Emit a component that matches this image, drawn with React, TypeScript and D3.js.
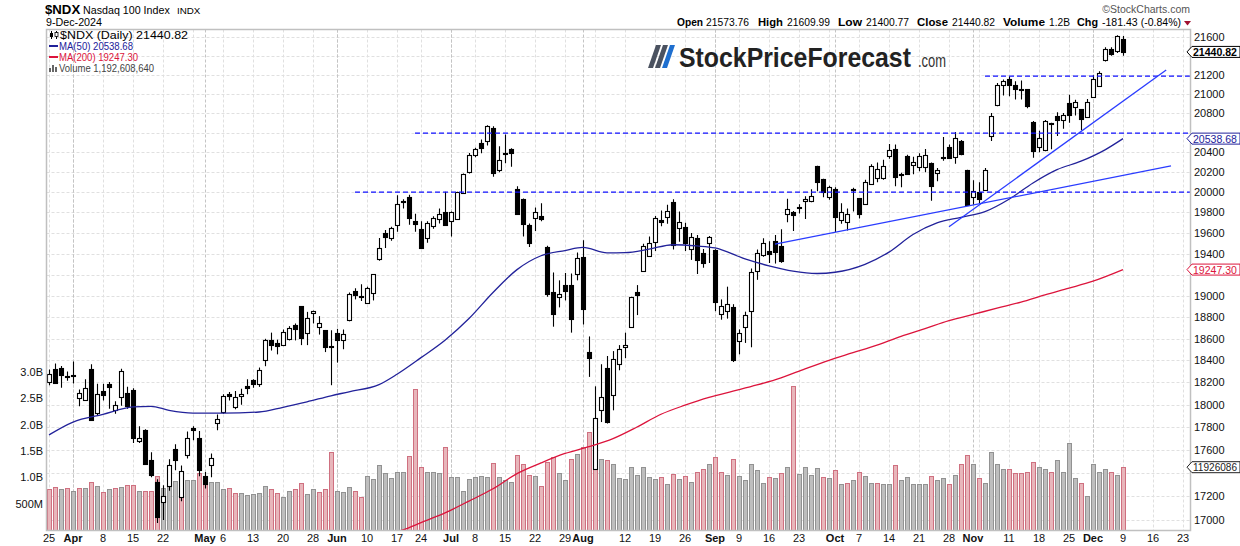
import React from "react";
import * as d3 from "d3";

const FONT = "'Liberation Sans', Arial, Helvetica, sans-serif";

// trading calendar
const HOLIDAYS = ["2024-03-29", "2024-05-27", "2024-06-19", "2024-07-04", "2024-09-02", "2024-11-28"];
const START = "2024-03-25";
const AXIS_END = "2024-12-24";
const MONTHS = ["Jan", "Feb", "Mar", "Apr", "May", "Jun", "Jul", "Aug", "Sep", "Oct", "Nov", "Dec"];

// daily OHLC (Mar 25 .. Dec 9, 2024)
const opens = [
  18204, 18320, 18330, 18262, 18258, 18060, 18045, 18320, 17930, 18122,
  18183, 17950, 18070, 18108, 18135, 17682, 17780, 17510, 17325, 17152,
  17288, 17605, 17195, 17560, 17793, 17707, 17372, 17467, 17840, 17935,
  18099, 17976, 18078, 18165, 18220, 18183, 18400, 18583, 18562, 18543,
  18592, 18722, 18900, 18655, 18840, 18706, 18677, 18528, 18650, 18585,
  18770, 19045, 18998, 18932, 19026, 19345, 19595, 19548, 19674, 19910,
  19950, 19712, 19635, 19548, 19670, 19735, 19805, 19712, 19735, 19990,
  20203, 20377, 20490, 20518, 20652, 20220, 20397, 20430, 20028, 19930,
  19677, 19745, 19770, 19465, 19030, 18990, 19105, 19105, 19210, 19365,
  18480, 17438, 17950, 18335, 18090, 18365, 18525, 18710, 19030, 19235,
  19380, 19510, 19722, 19752, 19900, 19650, 19660, 19440, 19555, 19410,
  19500, 19435, 18825, 18855, 18890, 18575, 18710, 18855, 19232, 19385,
  19425, 19525, 19470, 19790, 19800, 19850, 19910, 19910, 20260, 20135,
  19950, 20035, 19725, 19710, 20030, 19940, 19885, 20085, 20145, 20140,
  20360, 20432, 20180, 20365, 20270, 20250, 20250, 20290, 20190, 20340,
  20450, 20350, 20510, 20218, 19950, 20000, 20025, 20565, 20880, 21088,
  21160, 21088, 21045, 21045, 20710, 20450, 20425, 20700, 20775, 20730,
  20900, 20860, 20840, 20757, 20965, 21085, 21350, 21475, 21447, 21573.76,
];
const highs = [
  18316, 18371, 18350, 18300, 18390, 18136, 18228, 18365, 18189, 18189,
  18204, 18030, 18325, 18160, 18147, 17808, 17782, 17580, 17348, 17295,
  17520, 17650, 17465, 17763, 17808, 17766, 17410, 17570, 17914, 18093,
  18113, 18122, 18144, 18228, 18228, 18335, 18598, 18655, 18590, 18684,
  18715, 18740, 18900, 18848, 18860, 18808, 18677, 18677, 18690, 18684,
  19030, 19070, 19108, 19085, 19205, 19550, 19630, 19660, 19970, 19930,
  19975, 19788, 19715, 19715, 19762, 19840, 20005, 19810, 20005, 20187,
  20393, 20447, 20530, 20675, 20665, 20460, 20580, 20440, 20060, 19937,
  19693, 19850, 19890, 19475, 19220, 19145, 19215, 19210, 19410, 19530,
  18620, 18165, 18365, 18440, 18485, 18540, 18655, 18990, 19100, 19495,
  19565, 19765, 19820, 19875, 19930, 19810, 19700, 19600, 19580, 19445,
  19570, 19442, 18965, 19085, 18920, 18685, 18850, 19258, 19440, 19548,
  19520, 19580, 19635, 19935, 19815, 19880, 19960, 20030, 20265, 20135,
  20065, 20050, 19890, 19840, 20045, 19940, 20125, 20280, 20297, 20325,
  20485, 20478, 20195, 20375, 20355, 20390, 20432, 20297, 20242, 20555,
  20480, 20605, 20525, 20224, 20120, 20100, 20242, 20800, 21112, 21150,
  21185, 21130, 21140, 21045, 20720, 20618, 20730, 20700, 20810, 20800,
  20990, 20938, 20840, 20945, 21195, 21235, 21490, 21490, 21618, 21609.99,
];
const lows = [
  18174, 18189, 18153, 18215, 18190, 17986, 18033, 17860, 17905, 18038,
  17965, 17920, 17990, 17965, 17662, 17662, 17476, 17365, 16975, 17000,
  17248, 17425, 17158, 17527, 17685, 17372, 17268, 17365, 17773, 17920,
  18038, 17960, 18000, 18093, 18153, 18160, 18347, 18490, 18455, 18531,
  18583, 18583, 18540, 18540, 18740, 18637, 18476, 18175, 18380, 18502,
  18760, 18965, 18950, 18925, 18955, 19332, 19455, 19525, 19612, 19840,
  19680, 19612, 19458, 19505, 19640, 19693, 19673, 19565, 19730, 19983,
  20187, 20350, 20390, 20468, 20155, 20200, 20290, 20255, 19780, 19565,
  19465, 19620, 19715, 18990, 18710, 18890, 18955, 18655, 19145, 18730,
  18250, 17430, 17846, 17833, 17950, 18310, 18420, 18710, 18818, 19225,
  19372, 19425, 19665, 19690, 19440, 19515, 19425, 19340, 19205, 19265,
  19310, 18855, 18775, 18785, 18385, 18455, 18560, 18520, 19150, 19370,
  19310, 19305, 19312, 19705, 19620, 19790, 19735, 19900, 20010, 19950,
  19925, 19610, 19690, 19625, 19810, 19740, 19875, 20075, 20100, 20125,
  20335, 20060, 20050, 20180, 20180, 20210, 20200, 19915, 20110, 20315,
  20335, 20285, 20370, 19872, 19875, 19890, 20025, 20515, 20870, 20982,
  20975, 20940, 20940, 20850, 20345, 20400, 20410, 20430, 20565, 20640,
  20700, 20775, 20625, 20750, 20958, 21070, 21340, 21400, 21430, 21400.77,
];
const closes = [
  18273, 18195, 18270, 18248, 18265, 18108, 18153, 17866, 18099, 18090,
  18162, 18001, 18301, 17990, 17705, 17708, 17482, 17386, 17025, 17200,
  17470, 17510, 17417, 17708, 17773, 17430, 17310, 17530, 17876, 18078,
  18075, 18068, 18099, 18153, 18190, 18316, 18583, 18543, 18531, 18662,
  18702, 18690, 18604, 18795, 18858, 18740, 18522, 18518, 18585, 18640,
  19020, 19010, 18988, 19070, 19205, 19450, 19565, 19645, 19880, 19900,
  19742, 19690, 19458, 19693, 19745, 19782, 19673, 19805, 19998, 20180,
  20377, 20433, 20440, 20665, 20195, 20320, 20385, 20390, 19790, 19690,
  19505, 19808, 19735, 19020, 18825, 19020, 19045, 18785, 19355, 18875,
  18425, 17885, 18070, 17850, 18410, 18500, 18540, 18990, 19010, 19475,
  19500, 19750, 19710, 19815, 19480, 19705, 19505, 19560, 19340, 19310,
  19565, 18940, 18905, 18920, 18400, 18650, 18815, 19225, 19405, 19505,
  19400, 19415, 19325, 19830, 19780, 19855, 19935, 19960, 20100, 20000,
  20050, 19760, 19800, 19790, 20020, 19790, 20100, 20265, 20235, 20265,
  20425, 20150, 20170, 20180, 20305, 20365, 20375, 20058, 20218, 20350,
  20345, 20543, 20385, 19878, 20015, 19935, 20218, 20767, 21088, 21133,
  21088, 21053, 21035, 20870, 20418, 20540, 20720, 20690, 20730, 20780,
  20785, 20910, 20740, 20920, 21155, 21218, 21475, 21420, 21607, 21440.82,
];
const PREV_CLOSE = 18339;

// daily volume, billions of shares
const volumes = [
  0.77, 0.81, 0.77, 0.79, 0.74, 0.79, 0.79, 0.92, 0.83, 0.72,
  0.77, 0.79, 0.82, 0.85, 0.85, 0.74, 0.75, 0.75, 1.02, 0.79,
  0.85, 0.93, 1.02, 0.95, 0.95, 1.08, 1.03, 0.91, 0.92, 0.77,
  0.8, 0.7, 0.7, 0.67, 0.69, 0.7, 0.83, 0.77, 0.7, 0.62,
  0.74, 0.77, 0.89, 0.68, 0.77, 0.72, 0.77, 1.48, 0.75, 0.72,
  0.82, 0.75, 0.62, 1.02, 0.96, 1.23, 1.08, 0.98, 1.1, 1.1,
  1.4, 2.67, 1.2, 1.11, 1.11, 1.08, 1.57, 1.01, 1.01, 0.75,
  0.96, 1.01, 1.03, 1.01, 1.28, 1.01, 0.94, 0.91, 1.42, 1.25,
  1.04, 1.02, 0.83, 1.3, 1.38, 1.08, 0.94, 1.35, 1.44, 1.57,
  1.86, 1.8, 1.35, 1.33, 1.25, 0.99, 0.96, 1.2, 1.04, 1.2,
  1.01, 0.96, 1.01, 0.87, 1.06, 0.96, 1.02, 0.91, 1.11, 1.16,
  1.26, 1.38, 1.1, 1.04, 1.35, 1.02, 0.94, 1.25, 1.14, 0.89,
  1.01, 0.99, 1.08, 1.2, 2.73, 1.06, 1.2, 1.04, 1.18, 1.01,
  0.99, 1.14, 0.87, 0.9, 0.94, 1.11, 1.02, 0.9, 0.9, 0.87,
  0.87, 1.23, 0.94, 1.01, 0.87, 0.87, 0.87, 1.02, 0.94, 0.99,
  0.87, 1.04, 1.26, 1.42, 1.25, 0.99, 0.9, 1.49, 1.25, 1.16,
  1.16, 1.08, 1.08, 1.1, 1.3, 1.19, 1.16, 1.11, 1.33, 1.1,
  1.66, 0.99, 0.9, 0.65, 1.26, 1.11, 1.16, 1.1, 1.04, 1.1926,
];

// moving averages (bar index -> value)
const ma50Days = [0, 4, 9, 14, 17, 20, 24, 29, 35, 39, 43, 47, 50, 55, 58, 62, 66, 70, 74, 78, 82, 86, 89, 93, 96, 100, 104, 108, 111, 116, 120, 124, 128, 131, 136, 140, 144, 148, 152, 156, 160, 164, 168, 172, 176, 179];
const ma50Values = [17733, 17846, 17915, 17980, 17986, 17950, 17926, 17926, 17935, 17977, 18026, 18080, 18116, 18180, 18274, 18425, 18585, 18786, 19030, 19247, 19380, 19430, 19460, 19408, 19410, 19443, 19486, 19474, 19455, 19350, 19283, 19232, 19210, 19222, 19298, 19415, 19585, 19698, 19753, 19808, 19930, 20092, 20225, 20310, 20425, 20538.68];
const ma200Days = [56, 59, 62, 66, 70, 74, 78, 82, 86, 90, 94, 98, 102, 106, 110, 114, 118, 122, 126, 130, 134, 138, 142, 146, 150, 154, 158, 162, 166, 170, 174, 179];
const ma200Values = [16887, 16918, 16978, 17060, 17160, 17265, 17396, 17488, 17570, 17630, 17700, 17802, 17915, 17996, 18066, 18121, 18177, 18242, 18323, 18401, 18470, 18540, 18620, 18692, 18766, 18824, 18883, 18940, 19008, 19071, 19137, 19247.3];

// annotations
const levelLines = [
  { from: 51, price: 20000 },
  { from: 61, price: 20595 },
  { from: 156, price: 21185 },
];
const trendLines = [
  { x1: 121, p1: 19492, x2: 187, p2: 20262 },
  { x1: 150, p1: 19660, x2: 186.2, p2: 21250 },
];

const priceTicks = d3.range(17000, 21601, 200);
const volumeTicks = [0.5, 1, 1.5, 2, 2.5, 3];
const volumeTickLabels = ["500M", "1.0B", "1.5B", "2.0B", "2.5B", "3.0B"];

const headerItems: [string, boolean, number, number][] = [
  ["Open", true, 677, 26],
  ["21573.76", false, 706, 43],
  ["High", true, 758, 25],
  ["21609.99", false, 787, 43],
  ["Low", true, 838, 24],
  ["21400.77", false, 866, 43],
  ["Close", true, 917, 31],
  ["21440.82", false, 952, 43],
  ["Volume", true, 1003, 42],
  ["1.2B", false, 1049, 21],
  ["Chg", true, 1077, 21],
  ["-181.43 (-0.84%)", false, 1102, 79],
];

function tradingDays(from: string, to: string) {
  const out: Date[] = [];
  const d = new Date(from + "T00:00:00Z");
  const end = new Date(to + "T00:00:00Z");
  while (d <= end) {
    const dow = d.getUTCDay();
    const key = d.toISOString().slice(0, 10);
    if (dow !== 0 && dow !== 6 && !HOLIDAYS.includes(key)) out.push(new Date(d));
    d.setUTCDate(d.getUTCDate() + 1);
  }
  return out;
}

const L = 46.5, R = 1190.5, T = 29.5, B = 530.5;

export default function App() {
  const days = tradingDays(START, AXIS_END);
  const n = closes.length;
  const x = d3.scaleLinear().domain([0, n - 1]).range([49, 1123]);
  const y = d3.scaleLog().domain([17000, 21600]).range([520, 37]);
  const yv = d3.scaleLinear().domain([0, 3]).range([530, 372]);

  // week / month starts
  const monthStarts: number[] = [];
  const weekStarts: number[] = [];
  days.forEach((d, i) => {
    if (i === 0) { weekStarts.push(i); return; }
    const p = days[i - 1];
    if (d.getUTCMonth() !== p.getUTCMonth()) monthStarts.push(i);
    if (d.getUTCDay() < p.getUTCDay()) weekStarts.push(i);
  });
  const labels: { i: number; text: string; bold: boolean }[] = [];
  monthStarts.forEach((i) => labels.push({ i, text: MONTHS[days[i].getUTCMonth()], bold: true }));
  weekStarts.forEach((i) => {
    if (monthStarts.some((m) => Math.abs(m - i) <= 2)) return;
    labels.push({ i, text: String(days[i].getUTCDate()), bold: false });
  });

  const ma50Line = d3.line<number>().x((d) => x(ma50Days[d])).y((d) => y(ma50Values[d])).curve(d3.curveMonotoneX);
  const ma200Line = d3.line<number>().x((d) => x(ma200Days[d])).y((d) => y(ma200Values[d])).curve(d3.curveMonotoneX);

  // value tags on the right axis (they cover the tick labels beneath them)
  const tagYs = [y(21440.82), y(20538.68), y(19247.3), yv(1.1926)];
  const hidden = (p: number) => tagYs.some((t) => Math.abs(t - y(p)) < 8);

  const tag = (yc: number, color: string, text: string, bold = false) => (
    <g>
      <polygon
        points={`1187,${yc} 1192,${yc - 5.5} 1240,${yc - 5.5} 1240,${yc + 5.5} 1192,${yc + 5.5}`}
        fill="#fff" stroke={color} strokeWidth={1}
      />
      <text x={1193} y={yc + 4} fontSize={11} fill={color} fontWeight={bold ? "bold" : "normal"} textLength={44} lengthAdjust="spacingAndGlyphs">{text}</text>
    </g>
  );

  return (
    <div>
      <style>{"body{margin:0;background:#fff}"}</style>
      <svg width={1240} height={546} style={{ display: "block", fontFamily: FONT }}>
        <defs>
          <clipPath id="plot"><rect x={L} y={T} width={R - L} height={B - T} /></clipPath>
        </defs>
        <rect width={1240} height={546} fill="#fff" />

        {/* header */}
        <text x={45} y={14} fontSize={13.2} fontWeight="bold">$NDX</text>
        <text x={83} y={14} fontSize={10.7}>Nasdaq 100 Index</text>
        <text x={177} y={14} fontSize={9.8}>INDX</text>
        <text x={46} y={26} fontSize={11} textLength={56} lengthAdjust="spacingAndGlyphs">9-Dec-2024</text>
        <text x={1190} y={13} fontSize={10.5} fill="#555" textAnchor="end">©StockCharts.com</text>
        {headerItems.map(([t, b, xx, w], k) => (
          <text key={k} x={xx} y={26} fontSize={11.5} fontWeight={b ? "bold" : "normal"} textLength={w} lengthAdjust="spacingAndGlyphs">{t}</text>
        ))}
        <polygon points="1184,21 1191,21 1187.5,25.5" fill="#a01030" />

        {/* grid */}
        <g clipPath="url(#plot)">
          {priceTicks.map((p) => (
            <line key={p} x1={L} x2={R} y1={Math.round(y(p)) + 0.5} y2={Math.round(y(p)) + 0.5} stroke="#e0e0e0" strokeDasharray="3,2" />
          ))}
          {weekStarts.concat(monthStarts).map((i) => (
            <line key={"v" + i} x1={Math.round(x(i)) + 0.5} x2={Math.round(x(i)) + 0.5} y1={T} y2={B}
              stroke={monthStarts.includes(i) ? "#c4c4c4" : "#e0e0e0"} strokeDasharray="3,2" />
          ))}
        </g>

        {/* watermark logo */}
        <g>
          <polygon points="648,68 653,68 661,45 656,45" fill="#4b5260" />
          <polygon points="655,68 660,68 668,45 663,45" fill="#4b5260" />
          <polygon points="662,68 667,68 675,45 670,45" fill="#1f6fcf" />
          <g transform="translate(679,67) scale(0.92,1)">
            <text x={0} y={0} fontSize={27} fontWeight="bold" fill="#222">StockPriceForecast</text>
          </g>
          <g transform="translate(918,67) scale(0.68,1)">
            <text x={0} y={0} fontSize={19} fill="#333">.com</text>
          </g>
        </g>

        <g clipPath="url(#plot)">
          {/* volume */}
          {volumes.map((v, i) => {
            const prev = i === 0 ? PREV_CLOSE : closes[i - 1];
            const down = closes[i] < prev;
            const cx = Math.round(x(i));
            const top = Math.round(yv(v));
            return (
              <rect key={"vol" + i} x={cx - 1.5} y={top + 0.5} width={4} height={530 - top}
                fill={down ? "#e8b6bb" : "#bebebe"} stroke={down ? "#cf7080" : "#929292"} strokeWidth={1} />
            );
          })}

          {/* candles */}
          {closes.map((c, i) => {
            const o = opens[i];
            const cx = Math.round(x(i));
            const t = Math.round(y(Math.max(o, c)));
            const b = Math.round(y(Math.min(o, c)));
            return (
              <g key={"c" + i}>
                <line x1={cx + 0.5} x2={cx + 0.5} y1={y(highs[i])} y2={y(lows[i])} stroke="#000" strokeWidth={1.1} />
                <rect x={cx - 1.5} y={t + 0.5} width={4} height={Math.max(1, b - t)} fill={c >= o ? "#fff" : "#000"} stroke="#000" strokeWidth={1.1} />
              </g>
            );
          })}

          {/* moving averages */}
          <path d={ma200Line(d3.range(ma200Days.length)) || ""} fill="none" stroke="#dc143c" strokeWidth={1.3} />
          <path d={ma50Line(d3.range(ma50Days.length)) || ""} fill="none" stroke="#22229a" strokeWidth={1.3} />

          {/* horizontal levels */}
          {levelLines.map((l, k) => (
            <line key={"l" + k} x1={x(l.from)} x2={R} y1={y(l.price)} y2={y(l.price)} stroke="#1010ff" strokeWidth={1.3} strokeDasharray="5,3" />
          ))}
          {/* trend lines */}
          {trendLines.map((t, k) => (
            <line key={"t" + k} x1={x(t.x1)} y1={y(t.p1)} x2={x(t.x2)} y2={y(t.p2)} stroke="#2a3cff" strokeWidth={1.3} />
          ))}
        </g>

        {/* frame */}
        <rect x={L} y={T} width={R - L} height={B - T} fill="none" stroke="#c0c0c0" strokeWidth={1.5} />

        {/* legend */}
        <g fontSize={11}>
          <line x1={51.5} x2={51.5} y1={31} y2={39} stroke="#000" />
          <rect x={50} y={33} width={3} height={4} fill="#000" />
          <line x1={56.5} x2={56.5} y1={31} y2={39} stroke="#000" />
          <rect x={55} y={32.5} width={3} height={4} fill="#fff" stroke="#000" strokeWidth={0.8} />
          <text x={60} y={39} textLength={128} lengthAdjust="spacingAndGlyphs">$NDX (Daily) 21440.82</text>
          <rect x={49} y={45} width={9} height={2} fill="#22229a" />
          <text x={59} y={50} fill="#22229a" textLength={74} lengthAdjust="spacingAndGlyphs">MA(50) 20538.68</text>
          <rect x={49} y={56} width={9} height={2} fill="#dc143c" />
          <text x={59} y={61} fill="#dc143c" textLength={79} lengthAdjust="spacingAndGlyphs">MA(200) 19247.30</text>
          <rect x={49} y={68} width={2} height={4} fill="#666" />
          <rect x={52} y={65} width={2} height={7} fill="#666" />
          <rect x={55} y={67} width={2} height={5} fill="#666" />
          <text x={59} y={72} fill="#444" textLength={95} lengthAdjust="spacingAndGlyphs">Volume 1,192,608,640</text>
        </g>

        {/* right price axis */}
        {priceTicks.filter((p) => !hidden(p)).map((p) => (
          <text key={"pt" + p} x={1194} y={y(p) + 4} fontSize={11} fill="#111">{p}</text>
        ))}
        {/* left volume axis */}
        {volumeTicks.map((v, k) => (
          <text key={"vt" + k} x={43} y={yv(v) + 4} fontSize={11} fill="#111" textAnchor="end">{volumeTickLabels[k]}</text>
        ))}
        {/* x axis labels */}
        {labels.map((l) => (
          <text key={"xl" + l.i} x={x(l.i)} y={542} fontSize={11} textAnchor="middle" fontWeight={l.bold ? "bold" : "normal"} fill="#111">{l.text}</text>
        ))}

        {/* value tags */}
        {tag(y(19247.3), "#dc143c", "19247.30")}
        {tag(y(20538.68), "#22229a", "20538.68")}
        {tag(yv(1.1926), "#222", "11926086")}
        {tag(y(21440.82), "#000", "21440.82", true)}
      </svg>
    </div>
  );
}
